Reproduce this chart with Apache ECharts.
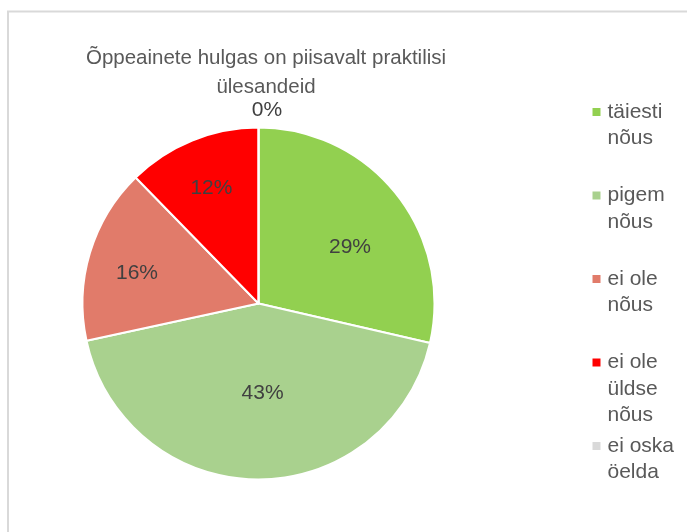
<!DOCTYPE html>
<html><head><meta charset="utf-8">
<script src="https://cdn.jsdelivr.net/npm/echarts@6/dist/echarts.min.js"></script>
<style>html,body{margin:0;padding:0;background:#fff}#c{width:687px;height:532px}</style>
</head><body><div id="c"></div>
<script>
const titleText = 'Õppeainete hulgas on piisavalt praktilisi\nülesandeid';
const categories = ['täiesti\nnõus', 'pigem\nnõus', 'ei ole\nnõus', 'ei ole\nüldse\nnõus', 'ei oska\nöelda'];
const values = [28.6, 43.0, 16.1, 12.3, 0];
const colors = ['#92d050', '#a9d18e', '#e17b6a', '#ff0000', '#d9d9d9'];

const CX = 258.5, CY = 303.5, R = 176;
// label placement (style): [radius fraction, angle offset in degrees]
const labelPlace = [[0.61, 7], [0.51, -3], [0.712, -2.6], [0.71, 0], [1.10, 2.5]];
const LH = 26.5, LINES = 3, ITEM_H = LINES * LH;
const SQ = 8;
const firstLine = LH / 2;
const legendIconPath = 'path://M0,0L0,0M0,' + ITEM_H + 'L0,' + ITEM_H +
  'M0,' + (firstLine - SQ / 2) + 'H' + SQ + 'V' + (firstLine + SQ / 2) + 'H0Z';
const FONT = 'Liberation Sans';
const chart = echarts.init(document.getElementById('c'), null, {renderer: 'canvas'});
chart.setOption({
  animation: false,
  backgroundColor: '#ffffff',
  graphic: [{
    type: 'rect', silent: true, z: -10,
    shape: {x: 8, y: 11.5, width: 720, height: 600},
    style: {fill: 'transparent', stroke: '#d9d9d9', lineWidth: 2}
  }],
  title: {
    text: titleText, left: 266, top: 44, textAlign: 'center', padding: 0,
    textStyle: {color: '#595959', fontSize: 20.5, fontWeight: 'normal', lineHeight: 29, fontFamily: FONT}
  },
  legend: {
    orient: 'vertical', left: 592.5, top: 112 - firstLine, padding: 0, itemGap: 83.5 - ITEM_H,
    itemWidth: SQ, itemHeight: ITEM_H, selectedMode: false,
    data: categories.map(n => ({name: n, icon: legendIconPath})),
    formatter: function (name) {
      const n = name.split('\n').length;
      let s = name;
      for (let i = n; i < LINES; i++) s += '\n ';
      return s;
    },
    itemStyle: {borderWidth: 0},
    textStyle: {color: '#595959', fontSize: 21, lineHeight: LH, fontFamily: FONT, padding: [0, 0, 0, 2]}
  },
  series: [{
    type: 'pie', center: [CX, CY], radius: [0, R], startAngle: 90, clockwise: true,
    avoidLabelOverlap: false, silent: true,
    data: categories.map((n, i) => ({name: n, value: values[i], itemStyle: {color: colors[i]}})),
    itemStyle: {borderColor: '#ffffff', borderWidth: 2},
    label: {
      show: true, position: 'inside', color: '#404040', fontSize: 21, fontFamily: FONT,
      formatter: p => Math.round(p.percent) + '%'
    },
    labelLine: {show: false},
    emphasis: {disabled: true},
    labelLayout: function (p) {
      const lr = p.labelRect;
      const lx = lr.x + lr.width / 2, ly = lr.y + lr.height / 2;
      let ang = Math.atan2(lx - CX, -(ly - CY));
      const pl = labelPlace[p.dataIndex];
      ang += pl[1] * Math.PI / 180;
      const r = pl[0] * R;
      return {x: CX + r * Math.sin(ang), y: CY - r * Math.cos(ang), align: 'center', verticalAlign: 'middle'};
    }
  }]
});
</script>
</body></html>
